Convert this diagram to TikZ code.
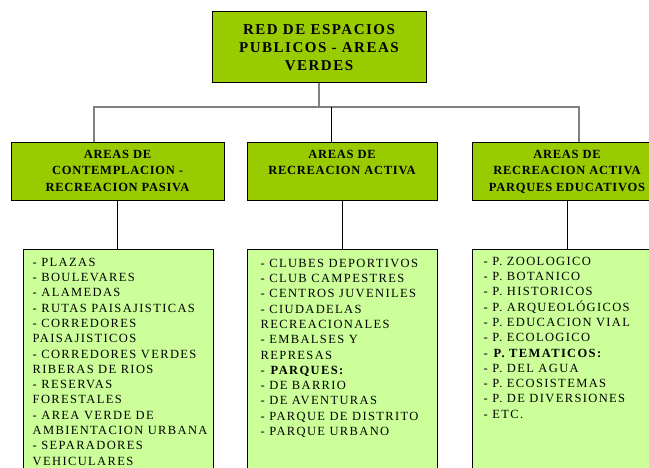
\documentclass[tikz,border=0pt]{standalone}
\usepackage{fontspec}
\setmainfont{Liberation Serif}
\newfontfamily\fitem[LetterSpace=11]{Liberation Serif}
\newfontfamily\fhead[LetterSpace=6]{Liberation Serif}
\newfontfamily\ftop[LetterSpace=10]{Liberation Serif}
\definecolor{dkgreen}{HTML}{99CC00}
\definecolor{ltgreen}{HTML}{CCFF99}
\definecolor{lngray}{HTML}{808080}
\begin{document}
\begin{tikzpicture}[x=1pt,y=-1pt,
 topbox/.style={draw=black, line width=1pt, fill=dkgreen, minimum width=214pt, minimum height=71pt, inner sep=0pt, align=center, font={\ftop\bfseries\fontsize{15}{18}\selectfont}},
 headbox/.style={draw=black, line width=1pt, fill=dkgreen, minimum height=58pt, inner sep=0pt, font={\fhead\bfseries\fontsize{12.5}{16.5}\selectfont}},
 itembox/.style={draw=black, line width=1pt, fill=ltgreen, minimum width=190pt, minimum height=260pt, inner sep=0pt, anchor=north},
 itemtext/.style={anchor=north west, inner sep=0pt, align=left, font={\fitem\fontsize{12.5}{15.3}\selectfont}},
 grayline/.style={draw=lngray, line width=1.3pt},
 blkline/.style={draw=black, line width=0.9pt}]
\path[use as bounding box] (0,0) rectangle (649,468);
\clip (0,0) rectangle (649,468);

\node[topbox] (top) at (319,47.5) {RED DE ESPACIOS\\PUBLICOS - AREAS\\VERDES};

\node[headbox, minimum width=213pt] (h1) at (117.5,172) {\parbox[c][44pt][t]{205pt}{\centering AREAS DE\\CONTEMPLACION -\\RECREACION PASIVA}};
\node[headbox, minimum width=190pt] (h2) at (342,172) {\parbox[c][44pt][t]{185pt}{\centering AREAS DE\\RECREACION ACTIVA}};
\node[headbox, minimum width=190pt] (h3) at (567,172) {\parbox[c][44pt][t]{185pt}{\centering AREAS DE\\RECREACION ACTIVA\\PARQUES EDUCATIVOS}};

\node[itembox] (i1) at (118,249) {};
\node[itembox] (i2) at (342,249) {};
\node[itembox] (i3) at (567,249) {};

\node[itemtext] (t1) at ([xshift=10pt,yshift=-8.8pt]i1.north west) {- PLAZAS\\- BOULEVARES\\- ALAMEDAS\\- RUTAS PAISAJISTICAS\\- CORREDORES\\PAISAJISTICOS\\- CORREDORES VERDES\\RIBERAS DE RIOS\\- RESERVAS\\FORESTALES\\- AREA VERDE DE\\AMBIENTACION URBANA\\- SEPARADORES\\VEHICULARES};
\node[itemtext] (t2) at ([xshift=14pt,yshift=-9.8pt]i2.north west) {- CLUBES DEPORTIVOS\\- CLUB CAMPESTRES\\- CENTROS JUVENILES\\- CIUDADELAS\\RECREACIONALES\\- EMBALSES Y\\REPRESAS\\- \textbf{PARQUES:}\\- DE BARRIO\\- DE AVENTURAS\\- PARQUE DE DISTRITO\\- PARQUE URBANO};
\node[itemtext] (t3) at ([xshift=12pt,yshift=-7.8pt]i3.north west) {- P. ZOOLOGICO\\- P. BOTANICO\\- P. HISTORICOS\\- P. ARQUEOLÓGICOS\\- P. EDUCACION VIAL\\- P. ECOLOGICO\\- \textbf{P. TEMATICOS:}\\- P. DEL AGUA\\- P. ECOSISTEMAS\\- P. DE DIVERSIONES\\- ETC.};

\coordinate (j1) at (94,107);
\coordinate (j2) at (331,107);
\coordinate (j3) at (579,107);
\draw[grayline] (top.south) -- (top.south |- j1);
\draw[grayline] (j1 |- h1.north) -- (j1) -- (j3) -- (j3 |- h3.north);
\draw[blkline] (j2) -- (j2 |- h2.north);
\draw[blkline] (h1.south) -- (h1.south |- i1.north);
\draw[blkline] (h2.south) -- (h2.south |- i2.north);
\draw[blkline] (h3.south) -- (h3.south |- i3.north);
\end{tikzpicture}
\end{document}
